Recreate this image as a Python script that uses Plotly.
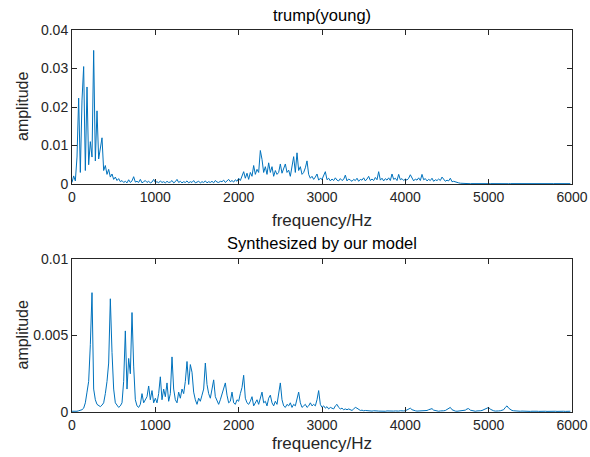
import plotly.graph_objects as go

# frequency grid (Hz): bins every 20 Hz from 0 to 5980
BIN_HZ = 20
N_BINS = 300

# top spectrum: trump(young), amplitude in units of 1e-5
top_amp_e5 = [
    40, 210, 80, 700, 2230, 300, 2180, 3050, 350, 2520,
    500, 1100, 700, 3470, 600, 1900, 650, 900, 1200, 350,
    480, 250, 380, 180, 260, 120, 180, 90, 140, 60,
    90, 40, 70, 30, 110, 40, 80, 190, 50, 70,
    40, 120, 30, 60, 90, 40, 70, 30, 50, 120,
    40, 60, 30, 80, 40, 60, 30, 70, 40, 50,
    90, 30, 60, 120, 40, 70, 30, 60, 40, 80,
    30, 60, 40, 90, 30, 50, 70, 30, 60, 40,
    80, 30, 60, 40, 70, 30, 90, 50, 40, 70,
    60, 100, 40, 80, 120, 60, 90, 50, 110, 70,
    150, 90, 200, 320, 150, 280, 120, 300, 200, 480,
    250, 380, 300, 870, 640, 300, 450, 250, 550, 300,
    450, 200, 350, 250, 300, 520, 280, 420, 520, 300,
    360, 200, 450, 710, 300, 810, 350, 450, 250, 300,
    420, 600, 250, 150, 200, 120, 180, 260, 100, 150,
    120, 200, 320, 110, 150, 80, 130, 90, 160, 100,
    80, 140, 90, 120, 230, 80, 130, 100, 70, 120,
    90, 150, 70, 120, 100, 160, 80, 130, 200, 90,
    130, 90, 170, 110, 320, 100, 150, 80, 140, 100,
    160, 90, 260, 120, 150, 90, 250, 110, 140, 90,
    130, 100, 150, 240, 150, 80, 130, 100, 160, 90,
    250, 110, 140, 80, 120, 90, 150, 70, 110, 90,
    130, 90, 180, 110, 70, 100, 80, 150, 60, 70,
    50, 40, 30, 20, 15, 12, 10, 10, 10, 8,
    10, 8, 12, 9, 10, 8, 11, 9, 10, 8,
    9, 10, 8, 11, 9, 10, 8, 9, 10, 8,
    10, 9, 8, 10, 9, 11, 8, 10, 9, 8,
    9, 10, 8, 9, 10, 8, 9, 10, 8, 9,
    10, 8, 9, 10, 8, 9, 10, 8, 9, 10,
    8, 9, 10, 8, 9, 10, 8, 9, 8, 9,
]

# bottom spectrum: synthesized by our model, amplitude in units of 1e-5
bot_amp_e5 = [
    5, 4, 6, 5, 8, 10, 15, 25, 60, 130,
    200, 440, 780, 150, 80, 50, 40, 35, 45, 60,
    120, 200, 320, 740, 390, 150, 60, 40, 30, 40,
    60, 200, 530, 150, 350, 250, 650, 300, 80, 40,
    30, 50, 120, 60, 80, 100, 170, 80, 140, 60,
    90, 60, 120, 230, 80, 150, 100, 190, 70, 120,
    360, 150, 80, 60, 130, 90, 150, 120, 200, 330,
    180, 310, 260, 130, 80, 50, 90, 70, 110, 150,
    320, 180, 120, 90, 150, 210, 100, 70, 50, 80,
    120, 150, 190, 110, 60, 70, 130, 60, 50, 80,
    70, 120, 160, 240, 90, 60, 50, 70, 100, 40,
    60, 80, 50, 90, 130, 60, 70, 40, 90, 110,
    60, 40, 70, 50, 120, 190, 80, 40, 30, 50,
    40, 60, 30, 50, 40, 80, 130, 60, 30, 40,
    50, 30, 40, 60, 40, 50, 40, 80, 140, 50,
    30, 40, 25, 35, 20, 30, 25, 20, 40, 50,
    30, 20, 25, 15, 20, 15, 20, 15, 10, 20,
    30, 25, 20, 10, 12, 8, 10, 8, 6, 8,
    6, 8, 5, 7, 6, 5, 8, 6, 5, 7,
    6, 5, 8, 6, 7, 5, 6, 8, 6, 7,
    8, 12, 20, 25, 15, 10, 8, 6, 7, 5,
    6, 8, 7, 10, 15, 20, 22, 12, 8, 6,
    5, 7, 6, 8, 10, 15, 20, 30, 15, 8,
    6, 5, 7, 6, 8, 10, 12, 20, 22, 12,
    8, 6, 5, 7, 6, 8, 10, 15, 22, 28,
    30, 18, 10, 8, 6, 5, 7, 8, 10, 15,
    30, 40, 25, 15, 10, 8, 6, 5, 7, 5,
    6, 5, 4, 6, 5, 4, 5, 6, 4, 5,
    4, 5, 6, 4, 5, 4, 5, 4, 6, 4,
    5, 4, 5, 6, 4, 5, 4, 5, 4, 5,
]

x_ticks = [0, 1000, 2000, 3000, 4000, 5000, 6000]
top_yticks = [0, 0.01, 0.02, 0.03, 0.04]
top_yticklabels = ["0", "0.01", "0.02", "0.03", "0.04"]
bot_yticks = [0, 0.005, 0.01]
bot_yticklabels = ["0", "0.005", "0.01"]

titles = ["trump(young)", "Synthesized by our model"]
xlabel = "frequency/Hz"
ylabel = "amplitude"

freq = [i * BIN_HZ for i in range(N_BINS)]
top_amp = [v * 1e-5 for v in top_amp_e5]
bot_amp = [v * 1e-5 for v in bot_amp_e5]

W, H = 590, 457
LINE = "#0072BD"
AX = "#262626"
FONT = "Liberation Sans, Arial, sans-serif"
TICK_SIZE = 14
TITLE_SIZE = 16.5
XLABEL_SIZE = 17
YLABEL_SIZE = 16

fig = go.Figure()
fig.add_trace(go.Scatter(x=freq, y=top_amp, mode="lines",
                         line=dict(color=LINE, width=1), xaxis="x", yaxis="y",
                         showlegend=False, hoverinfo="skip"))
fig.add_trace(go.Scatter(x=freq, y=bot_amp, mode="lines",
                         line=dict(color=LINE, width=1), xaxis="x2", yaxis="y2",
                         showlegend=False, hoverinfo="skip"))

def px_x(p):
    return p / W

def px_y(p):
    return 1 - p / H

xdom = [px_x(72), px_x(572)]
axis_common = dict(showline=True, linecolor=AX, linewidth=1, mirror="ticks",
                   ticks="inside", ticklen=5, tickcolor=AX, showgrid=False,
                   zeroline=False, automargin=False,
                   tickfont=dict(family=FONT, size=TICK_SIZE, color=AX))

# page-pixel overlay used only to place the titles and x labels as text
cx_px = 322
fig.add_trace(go.Scatter(x=[cx_px, cx_px], y=[17, 245], text=titles, mode="text",
                         textposition="middle center", cliponaxis=False,
                         textfont=dict(family=FONT, size=TITLE_SIZE, color="#000000"),
                         xaxis="x3", yaxis="y3", showlegend=False, hoverinfo="skip"))
fig.add_trace(go.Scatter(x=[cx_px, cx_px], y=[222, 445], text=[xlabel, xlabel], mode="text",
                         textposition="middle center", cliponaxis=False,
                         textfont=dict(family=FONT, size=XLABEL_SIZE, color=AX),
                         xaxis="x3", yaxis="y3", showlegend=False, hoverinfo="skip"))

fig.update_layout(
    width=W, height=H,
    margin=dict(l=0, r=0, t=0, b=0),
    paper_bgcolor="white", plot_bgcolor="rgba(0,0,0,0)",
    xaxis=dict(domain=xdom, range=[0, 6000], tickvals=x_ticks,
               anchor="y", **axis_common),
    yaxis=dict(domain=[px_y(184), px_y(30)], range=[0, 0.04],
               tickvals=top_yticks, ticktext=top_yticklabels,
               anchor="x", **axis_common),
    xaxis2=dict(domain=xdom, range=[0, 6000], tickvals=x_ticks,
                anchor="y2", **axis_common),
    yaxis2=dict(domain=[px_y(412), px_y(259)], range=[0, 0.01],
                tickvals=bot_yticks, ticktext=bot_yticklabels,
                anchor="x2", **axis_common),
    xaxis3=dict(domain=[0, 1], range=[0, W], visible=False, anchor="y3",
                fixedrange=True),
    yaxis3=dict(domain=[0, 1], range=[H, 0], visible=False, anchor="x3",
                fixedrange=True),
)

ann = []
for yp in [107, 335.5]:
    ann.append(dict(text=ylabel, x=px_x(22), y=px_y(yp), xref="paper", yref="paper",
                    showarrow=False, xanchor="center", yanchor="middle", textangle=-90,
                    font=dict(family=FONT, size=YLABEL_SIZE, color=AX)))
fig.update_layout(annotations=ann)

fig.write_html("out.html")
